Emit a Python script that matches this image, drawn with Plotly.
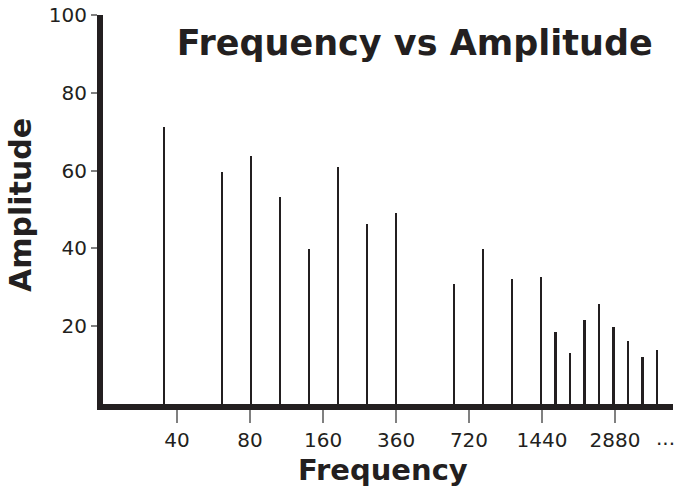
import plotly.graph_objects as go

# Bar slot positions (evenly spaced slots along the frequency axis)
bar_slots = [0, 4, 6, 8, 10, 12, 14, 16, 20, 22, 24, 26, 27, 28, 29, 30, 31, 32, 33, 34]
amplitudes = [71.3, 59.7, 63.8, 53.2, 39.8, 60.9, 46.3, 49.2, 30.9, 39.8, 32.1, 32.7,
              18.5, 13.0, 21.7, 25.6, 19.8, 16.2, 12.1, 14.0]

tick_slots = [0.9, 5.93, 10.97, 16.0, 21.03, 26.07, 31.1]
tick_labels = ["40", "80", "160", "360", "720", "1440", "2880"]

y_ticks = [20, 40, 60, 80, 100]

INK = "#231f20"
LABEL_FONT = dict(family="DejaVu Sans, sans-serif", size=20, color=INK, weight=400)
HEAVY_FONT = "DejaVu Sans, sans-serif"

fig = go.Figure()
fig.add_trace(go.Bar(
    x=bar_slots,
    y=amplitudes,
    width=0.19,
    marker=dict(color=INK, line=dict(width=0)),
    hoverinfo="x+y",
))

fig.update_layout(
    width=682,
    height=491,
    margin=dict(l=103, r=9, t=15, b=87, autoexpand=False),
    paper_bgcolor="white",
    plot_bgcolor="white",
    showlegend=False,
    bargap=0,
    title=dict(
        text="Frequency vs Amplitude",
        font=dict(family=HEAVY_FONT, size=35, color=INK, weight=800),
        x=0.547, xref="paper", xanchor="center",
        y=1 - 43 / 491, yref="container", yanchor="middle",
        automargin=False,
    ),
    xaxis=dict(
        range=[-4.207, 35.1],
        automargin=False,
        showgrid=False,
        zeroline=False,
        showline=True,
        linecolor=INK,
        linewidth=6,
        tickmode="array",
        tickvals=tick_slots,
        ticktext=tick_labels,
        ticks="outside",
        ticklen=13,
        tickwidth=1.5,
        tickcolor="#808080",
        tickfont=LABEL_FONT,
    ),
    yaxis=dict(
        range=[0, 100],
        automargin=False,
        showgrid=False,
        zeroline=False,
        showline=True,
        linecolor=INK,
        linewidth=6,
        tickmode="array",
        tickvals=y_ticks,
        ticks="outside",
        ticklen=6,
        tickwidth=1.5,
        tickcolor="#808080",
        tickfont=LABEL_FONT,
    ),
    annotations=[
        dict(text="Amplitude", textangle=-90, showarrow=False,
             xref="paper", yref="paper", x=-0.1439, y=0.5116,
             xanchor="center", yanchor="middle",
             font=dict(family=HEAVY_FONT, size=30, color=INK, weight=800)),
        dict(text="Frequency", showarrow=False,
             xref="paper", yref="paper", x=0.491, y=-0.1697,
             xanchor="center", yanchor="middle",
             font=dict(family=HEAVY_FONT, size=29, color=INK, weight=800)),
        dict(text="...", showarrow=False,
             xref="x", yref="paper", x=34.55, y=-0.087,
             xanchor="center", yanchor="middle",
             font=LABEL_FONT),
    ],
)

fig.write_html(
    "out.html",
    config={"displayModeBar": False},
    post_script="document.body.style.margin='0';document.body.style.overflow='hidden';",
)
